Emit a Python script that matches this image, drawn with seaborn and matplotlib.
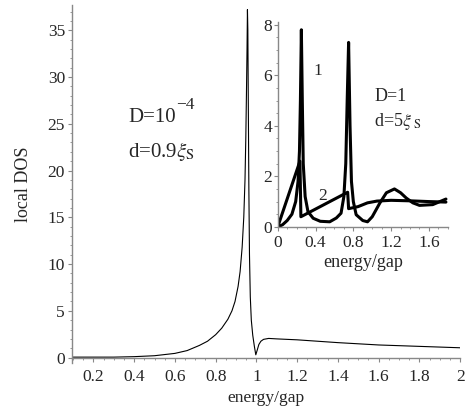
import matplotlib
matplotlib.use("Agg")
import matplotlib.pyplot as plt
import seaborn as sns
from matplotlib.ticker import MultipleLocator

# main panel: local DOS, D=1e-4, d=0.9 xi_S
main_energy = [0.095, 0.3, 0.4, 0.5, 0.6, 0.66, 0.72, 0.76, 0.8, 0.83, 0.86, 0.88,
               0.895, 0.91, 0.92, 0.93, 0.938, 0.944, 0.948, 0.951, 0.954, 0.956,
               0.958, 0.96, 0.963, 0.966, 0.97, 0.975, 0.982, 0.99, 0.997, 1.004,
               1.012, 1.022, 1.035, 1.06, 1.1, 1.2, 1.4, 1.6, 1.8, 2.0]
main_dos = [0.05, 0.05, 0.1, 0.2, 0.45, 0.75, 1.3, 1.75, 2.45, 3.15, 4.1, 5.0,
            6.0, 7.6, 9.2, 11.8, 15, 19, 23.5, 28, 33, 37.2,
            35, 28, 18, 11, 6.5, 4.0, 2.4, 1.2, 0.3, 0.8,
            1.4, 1.75, 1.95, 2.05, 2.0, 1.9, 1.6, 1.35, 1.2, 1.05]

# inset: D=1, d=5 xi_S, curves 1 and 2
c1_energy = [0.0, 0.05, 0.1, 0.15, 0.19, 0.215, 0.23, 0.24, 0.25, 0.26, 0.27, 0.29,
             0.32, 0.375, 0.45, 0.55, 0.62, 0.67, 0.7, 0.72, 0.735, 0.75, 0.765,
             0.78, 0.8, 0.83, 0.9, 0.95, 1.0, 1.08, 1.15, 1.235, 1.3, 1.36, 1.43,
             1.5, 1.64, 1.78]
c1_dos = [0.0, 0.08, 0.25, 0.5, 1.0, 1.8, 3.0, 5.0, 7.8, 5.0, 2.5, 1.2,
          0.6, 0.34, 0.22, 0.2, 0.35, 0.54, 1.2, 2.5, 5.0, 7.3, 4.0,
          1.8, 1.0, 0.48, 0.25, 0.2, 0.4, 0.94, 1.35, 1.5, 1.35, 1.14, 0.95,
          0.85, 0.88, 1.1]
c2_energy = [0.0, 0.235, 0.245, 0.74, 0.75, 0.85, 0.95, 1.05, 1.2, 1.4, 1.6, 1.78]
c2_dos = [0.0, 2.6, 0.4, 1.37, 0.72, 0.8, 0.95, 1.02, 1.05, 1.03, 1.0, 0.98]

main_xticks = [0.2, 0.4, 0.6, 0.8, 1.0, 1.2, 1.4, 1.6, 1.8, 2.0]
main_xticklabels = ["0.2", "0.4", "0.6", "0.8", "1", "1.2", "1.4", "1.6", "1.8", "2"]
main_yticks = [0, 5, 10, 15, 20, 25, 30, 35]
inset_xticks = [0, 0.4, 0.8, 1.2, 1.6]
inset_xticklabels = ["0", "0.4", "0.8", "1.2", "1.6"]
inset_yticks = [0, 2, 4, 6, 8]

sns.set_style("ticks")
plt.rcParams['font.family'] = ['Liberation Serif', 'DejaVu Serif']
plt.rcParams['mathtext.fontset'] = 'stix'

fig = plt.figure(figsize=(4.66, 4.17), dpi=100)
ax = fig.add_axes([0.1545, 0.129, 0.833, 0.859])

sns.lineplot(x=main_energy, y=main_dos, ax=ax, color="black", linewidth=0.8,
             estimator=None, sort=False)
ax.set_xlim(0.095, 2.0)
ax.set_ylim(-0.6, 37.7)
ax.spines['top'].set_visible(False)
ax.spines['right'].set_visible(False)
ax.spines['bottom'].set_position(('data', 0))
for s in ['left', 'bottom']:
    ax.spines[s].set_color('#888888')
    ax.spines[s].set_linewidth(1.0)
ax.set_xticks(main_xticks)
ax.set_xticklabels(main_xticklabels)
ax.set_yticks(main_yticks)
ax.xaxis.set_minor_locator(MultipleLocator(0.05))
ax.yaxis.set_minor_locator(MultipleLocator(1))
ax.tick_params(which='major', length=3, width=0.8, color='#888888', labelsize=12.5, pad=2)
ax.tick_params(which='minor', length=1.5, width=0.6, color='#888888')
ax.tick_params(axis='x', pad=5)
ax.set_xlabel("energy/gap", fontsize=12.5, labelpad=4)
ax.set_ylabel("local DOS", fontsize=13, labelpad=11)

ax.text(0.37, 25.2, "D=10", fontsize=15)
ax.text(0.605, 26.6, "\u22124", fontsize=12.5)
ax.text(0.37, 21.5, r"d=0.9$\xi_{\rm S}$", fontsize=15)

# inset
axi = fig.add_axes([0.596, 0.456, 0.365, 0.492])
sns.lineplot(x=c1_energy, y=c1_dos, ax=axi, color="black", linewidth=2.2,
             estimator=None, sort=False)
sns.lineplot(x=c2_energy, y=c2_dos, ax=axi, color="black", linewidth=2.2,
             estimator=None, sort=False)
axi.set_xlim(0, 1.8)
axi.set_ylim(0, 8.12)
axi.patch.set_alpha(0)
axi.spines['top'].set_visible(False)
axi.spines['right'].set_visible(False)
for s in ['left', 'bottom']:
    axi.spines[s].set_color('#888888')
    axi.spines[s].set_linewidth(1.0)
axi.set_xticks(inset_xticks)
axi.set_xticklabels(inset_xticklabels)
axi.set_yticks(inset_yticks)
axi.xaxis.set_minor_locator(MultipleLocator(0.1))
axi.yaxis.set_minor_locator(MultipleLocator(0.5))
axi.tick_params(which='major', length=3, width=0.8, color='#888888', labelsize=12.5, pad=1)
axi.tick_params(axis='x', pad=3)
axi.tick_params(which='minor', length=1.5, width=0.6, color='#888888')
axi.set_xlabel("energy/gap", fontsize=13, labelpad=2)
axi.set_ylabel("")

axi.text(0.38, 6.0, "1", fontsize=12.5)
axi.text(0.43, 1.05, "2", fontsize=12.5)
axi.text(1.02, 5.0, "D=1", fontsize=13)
axi.text(1.02, 4.0, r"d=5$\xi_{\ \rm S}$", fontsize=13)

fig.savefig("out.png", dpi=100)
